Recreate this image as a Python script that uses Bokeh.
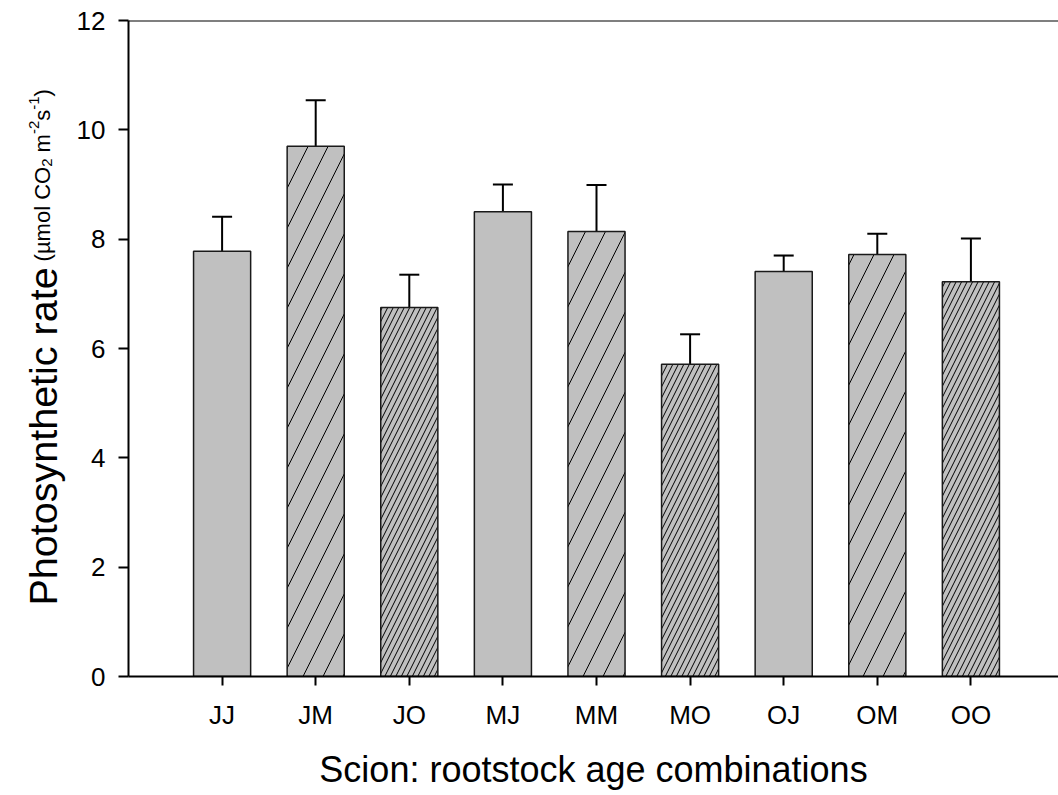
from bokeh.plotting import figure
from bokeh.layouts import row
from bokeh.models import (Range1d, FixedTicker, Whisker, TeeHead, ColumnDataSource, Span)
from bokeh.core.properties import value
from bokeh.embed import file_html
from bokeh.resources import INLINE

# ---------------- data ----------------
categories = ["JJ", "JM", "JO", "MJ", "MM", "MO", "OJ", "OM", "OO"]
rate_mean = [7.78, 9.70, 6.75, 8.50, 8.14, 5.71, 7.41, 7.72, 7.22]
rate_se = [0.63, 0.84, 0.60, 0.50, 0.85, 0.55, 0.29, 0.38, 0.79]
# fill style per bar: plain, wide hatch, dense hatch
bar_style = ["plain", "wide", "dense", "plain", "wide", "dense", "plain", "wide", "dense"]
y_ticks = [0, 2, 4, 6, 8, 10, 12]
x_title = "Scion: rootstock age combinations"

FONT = "Liberation Sans"
W, H = 1058, 795
LW = 70                                # width of the y-title strip
FL, FR, FT, FB = 128, 1058, 20, 676    # frame edges in page pixels
X0, X1 = -1.0, -1.0 + (FR - FL) / 93.6
Y0, Y1 = 0.0, 12.0

pattern = {"plain": " ", "wide": "/", "dense": "/"}
scale = {"plain": 12, "wide": 40, "dense": 11}

xs = list(range(len(categories)))
src = ColumnDataSource(dict(
    x=xs,
    top=rate_mean,
    upper=[m + s for m, s in zip(rate_mean, rate_se)],
    hp=[pattern[b] for b in bar_style],
    hs=[scale[b] for b in bar_style],
))

yr = Range1d(Y0, Y1)
p = figure(width=W - LW, height=H, output_backend="svg", toolbar_location=None,
           x_range=Range1d(X0, X1), y_range=yr,
           min_border_left=FL - LW, min_border_right=W - FR,
           min_border_top=FT, min_border_bottom=H - FB)
p.outline_line_color = None
p.background_fill_color = "white"
p.border_fill_color = "white"
p.xgrid.visible = False
p.ygrid.visible = False

p.vbar(x="x", top="top", width=0.61, bottom=0, source=src,
       fill_color="#c0c0c0", line_color="#1a1a1a", line_width=1.5,
       hatch_pattern="hp", hatch_scale="hs", hatch_color="black",
       hatch_weight=1)

p.add_layout(Whisker(base="x", lower="top", upper="upper", source=src,
                     dimension="height", line_color="black", line_width=2,
                     lower_head=None,
                     upper_head=TeeHead(size=20, line_color="black", line_width=2)))

p.add_layout(Span(location=Y1, dimension="width", line_color="black", line_width=2))

for ax in (p.xaxis[0], p.yaxis[0]):
    ax.axis_line_width = 2
    ax.axis_line_color = "black"
    ax.major_tick_line_width = 2
    ax.major_tick_line_color = "black"
    ax.major_tick_in = 0
    ax.minor_tick_line_color = None
    ax.major_label_text_font = FONT
    ax.major_label_text_font_size = "26px"
    ax.major_label_text_color = "black"

p.xaxis.ticker = FixedTicker(ticks=xs)
p.xaxis.major_label_overrides = {i: c for i, c in enumerate(categories)}
p.xaxis.major_tick_out = 9
p.xaxis.major_label_standoff = 14
p.xaxis.axis_label = x_title
p.xaxis.axis_label_text_font = FONT
p.xaxis.axis_label_text_font_size = "36px"
p.xaxis.axis_label_text_font_style = "normal"
p.xaxis.axis_label_text_color = "black"
p.xaxis.axis_label_standoff = 16

p.yaxis.ticker = FixedTicker(ticks=y_ticks)
p.yaxis.major_tick_out = 10
p.yaxis.major_label_standoff = 13

# ---------------- y title strip ----------------
q = figure(width=LW, height=H, output_backend="svg", toolbar_location=None,
           x_range=Range1d(0, LW), y_range=yr,
           x_axis_location=None, y_axis_location=None,
           min_border_left=0, min_border_right=0,
           min_border_top=FT, min_border_bottom=H - FB)
q.outline_line_color = None
q.xgrid.visible = False
q.ygrid.visible = False
q.border_fill_color = "white"


def dy(py):
    return Y0 + (FB - py) * (Y1 - Y0) / (FB - FT)


# (text, start y px, font px, baseline x px)
y_title = [
    ("Photosynthetic rate", 605.0, 39.5, 42),
    ("(\u00b5mol CO", 260.9, 22, 42),
    ("2", 166.3, 15, 46),
    ("m", 151.9, 22, 42),
    ("-2", 133.6, 15, 33),
    ("s", 120.3, 22, 42),
    ("-1", 109.3, 15, 33),
    (")", 96.0, 22, 42),
]
ts = ColumnDataSource(dict(
    x=[t[3] for t in y_title],
    y=[dy(t[1]) for t in y_title],
    text=[t[0] for t in y_title],
    size=[f"{t[2]}px" for t in y_title],
))
q.text(x="x", y="y", text="text", source=ts, angle=1.5707963267948966,
       text_font=value(FONT), text_font_size="size", text_color="black",
       text_align="left", text_baseline="alphabetic")

layout = row(q, p, spacing=0)
open("out.html", "w").write(file_html(layout, INLINE))
